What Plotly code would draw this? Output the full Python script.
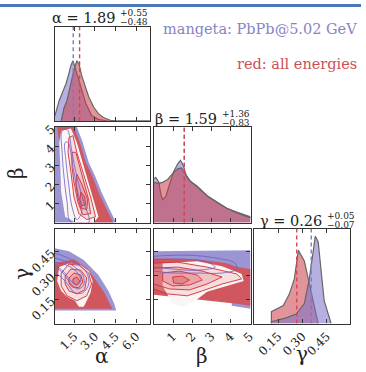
import plotly.graph_objects as go

W, H = 366, 372

# ---------------- data ----------------
# 1D marginal of alpha (relative heights)
alpha_blue_x = [0.1, 0.41, 0.69, 0.91, 1.12, 1.26, 1.41, 1.55, 1.69, 1.84, 2.12, 2.34, 2.76, 3.26, 3.98, 7.0]
alpha_blue_h = [0.06, 0.22, 0.32, 0.40, 0.51, 0.59, 0.64, 0.57, 0.49, 0.43, 0.29, 0.19, 0.06, 0.02, 0.0, 0.0]
alpha_red_x = [0.55, 0.76, 0.98, 1.26, 1.48, 1.69, 1.84, 2.05, 2.34, 2.55, 2.91, 3.26, 3.62, 4.12, 4.69, 7.0]
alpha_red_h = [0.0, 0.14, 0.22, 0.40, 0.54, 0.64, 0.61, 0.48, 0.34, 0.26, 0.15, 0.08, 0.04, 0.01, 0.0, 0.0]

# 1D marginal of beta
beta_blue_x = [0.0, 0.10, 0.26, 0.36, 0.46, 0.62, 0.82, 1.03, 1.24, 1.39, 1.55, 1.70, 1.91, 2.27, 2.78, 3.30, 3.81, 4.33, 5.05]
beta_blue_h = [0.46, 0.47, 0.42, 0.30, 0.24, 0.27, 0.40, 0.53, 0.61, 0.65, 0.59, 0.48, 0.43, 0.38, 0.28, 0.21, 0.15, 0.11, 0.06]
beta_red_x = [0.0, 0.21, 0.46, 0.72, 0.98, 1.24, 1.44, 1.65, 1.91, 2.27, 2.78, 3.30, 3.81, 4.33, 5.05]
beta_red_h = [0.42, 0.41, 0.42, 0.45, 0.51, 0.56, 0.57, 0.51, 0.43, 0.37, 0.28, 0.21, 0.15, 0.10, 0.05]

# 1D marginal of gamma
gamma_blue_x = [0.108, 0.108, 0.20, 0.262, 0.312, 0.343, 0.367, 0.380, 0.398, 0.417, 0.435, 0.460, 0.478]
gamma_blue_h = [0.0, 0.02, 0.06, 0.10, 0.21, 0.47, 0.76, 0.92, 0.86, 0.55, 0.24, 0.10, 0.0]
gamma_red_x = [0.108, 0.108, 0.182, 0.219, 0.250, 0.275, 0.312, 0.343, 0.373, 0.398]
gamma_red_h = [0.0, 0.125, 0.19, 0.31, 0.47, 0.77, 0.66, 0.42, 0.17, 0.0]

# medians
alpha_med = {"blue": 1.43, "red": 1.89}
beta_med = {"blue": 1.59, "red": 1.59}
gamma_med = {"blue": 0.355, "red": 0.265}

# 2D beta vs alpha: sample regions and contours
ba_blue_a = [0.1, 1.69, 2.12, 2.55, 3.05, 3.48, 3.98, 4.55, 0.1]
ba_blue_b = [5.05, 5.05, 4.22, 3.18, 2.40, 1.61, 0.83, 0.0, 0.0]
ba_red_a = [0.26, 1.48, 1.91, 2.34, 2.84, 3.26, 3.76, 4.34, 1.62, 1.55, 1.12, 0.76, 0.41]
ba_red_b = [5.05, 5.05, 4.22, 3.18, 2.40, 1.61, 0.83, 0.0, 0.0, 0.57, 1.61, 3.18, 4.22]
ba_white_a = [0.55, 1.26, 1.69, 2.12, 2.55, 2.98, 3.26, 2.91, 1.62, 0.84, 0.55, 0.48, 0.41]
ba_white_b = [4.84, 4.95, 4.22, 3.18, 2.14, 1.09, 0.31, 0.0, 0.0, 0.31, 1.61, 3.18, 4.22]
ba_red_cont_a = [
    [1.12, 1.41, 1.69, 2.12, 2.69, 3.05, 2.41, 1.84, 1.48, 1.26, 1.05, 1.12],
    [1.34, 1.62, 2.05, 2.55, 2.69, 2.12, 1.76, 1.48, 1.34, 1.34],
    [1.69, 2.05, 2.48, 2.41, 1.98, 1.76, 1.62, 1.69],
    [1.98, 2.26, 2.34, 2.05, 1.91, 1.98],
]
ba_red_cont_b = [
    [4.48, 4.58, 3.70, 2.66, 1.35, 0.31, 0.16, 0.47, 1.35, 2.66, 3.70, 4.48],
    [3.70, 3.70, 2.55, 1.20, 0.47, 0.42, 1.09, 2.14, 2.92, 3.70],
    [2.55, 2.03, 1.20, 0.68, 0.78, 1.35, 2.03, 2.55],
    [1.61, 1.35, 0.94, 0.89, 1.20, 1.61],
]
ba_blue_cont_a = [
    [0.62, 0.98, 1.34, 1.69, 2.19, 2.55, 1.26, 0.98, 0.76, 0.62, 0.62],
    [0.84, 1.05, 1.41, 1.76, 2.05, 1.69, 1.34, 1.12, 0.91, 0.84],
]
ba_blue_cont_b = [
    [4.84, 4.90, 3.70, 2.40, 1.09, 0.0, 0.0, 1.09, 2.40, 3.70, 4.84],
    [4.22, 4.22, 2.92, 1.61, 0.57, 0.16, 0.83, 1.88, 3.18, 4.22],
]

# 2D gamma vs alpha
ga_blue_a = [0.1, 1.12, 2.19, 3.26, 3.98, 4.41, 4.55, 0.1]
ga_blue_g = [0.472, 0.453, 0.398, 0.304, 0.205, 0.124, 0.081, 0.081]
ga_red_a = [0.1, 1.48, 2.41, 3.12, 3.69, 4.05, 4.27, 0.1]
ga_red_g = [0.379, 0.404, 0.348, 0.267, 0.193, 0.130, 0.093, 0.093]
ga_white_a = [0.41, 1.12, 1.98, 2.55, 2.84, 2.69, 2.41, 2.19, 1.84, 1.55, 0.98, 0.55, 0.26]
ga_white_g = [0.354, 0.379, 0.366, 0.329, 0.267, 0.193, 0.143, 0.106, 0.106, 0.143, 0.168, 0.205, 0.267]
ga_red_cont_a = [
    [0.55, 1.12, 1.84, 2.55, 2.76, 2.41, 1.69, 0.98, 0.55, 0.55],
    [0.84, 1.26, 1.98, 2.41, 2.26, 1.69, 1.12, 0.84, 0.84],
    [1.12, 1.48, 1.98, 2.12, 1.84, 1.34, 1.12, 1.12],
    [1.41, 1.69, 1.91, 1.69, 1.41, 1.41],
]
ga_red_cont_g = [
    [0.317, 0.373, 0.366, 0.317, 0.248, 0.174, 0.143, 0.174, 0.236, 0.317],
    [0.298, 0.342, 0.335, 0.286, 0.211, 0.186, 0.205, 0.248, 0.298],
    [0.286, 0.317, 0.304, 0.261, 0.224, 0.230, 0.255, 0.286],
    [0.280, 0.292, 0.267, 0.242, 0.255, 0.280],
]
ga_blue_cont_a = [
    [0.1, 0.76, 1.69, 2.41, 2.55, 2.12, 1.55, 1.12, 0.55, 0.1],
    [0.1, 0.84, 1.55, 2.12, 2.19, 1.76, 1.26, 0.69, 0.1],
    [0.1, 0.98, 1.69, 1.98, 1.69, 1.26, 0.69, 0.1],
]
ga_blue_cont_g = [
    [0.441, 0.422, 0.379, 0.317, 0.248, 0.193, 0.193, 0.236, 0.292, 0.317],
    [0.410, 0.391, 0.354, 0.304, 0.242, 0.217, 0.248, 0.317, 0.354],
    [0.385, 0.366, 0.323, 0.273, 0.242, 0.267, 0.329, 0.366],
]

# 2D gamma vs beta
gb_blue_b = [0.0, 5.05, 5.05, 4.07, 4.07, 0.0]
gb_blue_g = [0.453, 0.460, 0.093, 0.112, 0.329, 0.379]
gb_red_b = [0.0, 2.27, 3.81, 4.33, 5.05, 5.05, 4.33, 2.78, 1.24, 0.0]
gb_red_g = [0.410, 0.404, 0.379, 0.354, 0.342, 0.112, 0.124, 0.143, 0.161, 0.180]
gb_white_b = [0.46, 2.27, 3.56, 4.59, 4.69, 3.81, 2.78, 2.16, 1.49, 0.98, 0.72, 0.46]
gb_white_g = [0.379, 0.391, 0.360, 0.311, 0.267, 0.236, 0.199, 0.143, 0.106, 0.124, 0.180, 0.236]
gb_red_cont_b = [
    [0.0, 1.24, 2.78, 4.33, 4.59, 3.56, 2.53, 1.75, 0.72, 0.0],
    [0.0, 1.24, 2.53, 3.56, 2.78, 1.86, 0.82, 0.0],
    [0.46, 1.34, 2.27, 2.53, 1.86, 0.98, 0.46, 0.46],
    [0.98, 1.49, 1.86, 1.49, 1.03, 0.98],
]
gb_red_cont_g = [
    [0.379, 0.385, 0.354, 0.311, 0.280, 0.248, 0.205, 0.174, 0.186, 0.217],
    [0.348, 0.354, 0.329, 0.292, 0.248, 0.211, 0.217, 0.248],
    [0.317, 0.329, 0.304, 0.273, 0.242, 0.236, 0.267, 0.317],
    [0.292, 0.298, 0.273, 0.248, 0.255, 0.292],
]
gb_blue_cont_b = [
    [0.0, 1.75, 3.30, 4.23, 4.33, 3.56, 2.27, 0.98, 0.0],
    [0.0, 1.49, 2.78, 3.20, 2.27, 0.98, 0.0],
]
gb_blue_cont_g = [
    [0.422, 0.429, 0.410, 0.379, 0.342, 0.317, 0.317, 0.317, 0.329],
    [0.398, 0.404, 0.385, 0.354, 0.335, 0.342, 0.354],
]

alpha_ticks = [1.5, 3.0, 4.5, 6.0]
alpha_ticklabels = ["1.5", "3.0", "4.5", "6.0"]
beta_ticks = [1, 2, 3, 4, 5]
beta_ticklabels = ["1", "2", "3", "4", "5"]
gamma_ticks = [0.15, 0.30, 0.45]
gamma_ticklabels = ["0.15", "0.30", "0.45"]

titles = [
    ("α = 1.89", "+0.55", "−0.48"),
    ("β = 1.59", "+1.36", "−0.83"),
    ("γ = 0.26", "+0.05", "−0.07"),
]

# ---------------- styling ----------------
FONT = "DejaVu Serif"
BLUE_FILL = "rgba(120,112,200,0.55)"
RED_FILL = "rgba(200,62,72,0.55)"
OUTLINE = "#666666"
BLUE_DASH = "#7f78c8"
RED_DASH = "#d64550"
BLUE_SCAT = "#9c95d3"
RED_SCAT = "#d0575e"
WHITE_REG = "#fcf5f5"
PINKS = ["rgba(236,170,172,0.30)", "rgba(228,140,145,0.32)", "rgba(220,110,115,0.35)", "rgba(210,85,92,0.4)"]
RED_LINE = "#d22f38"
BLUE_LINE = "#6a60c8"

A_RANGE = [0.1, 7.0]
B_RANGE = [0.0, 5.05]
G_RANGE = [0.0, 0.596]


def xdom(p0, p1):
    return [p0 / W, p1 / W]


def ydom(p0, p1):
    return [1 - p1 / H, 1 - p0 / H]


cols = [xdom(55.7, 152), xdom(156, 254), xdom(257.5, 355)]
rows = [ydom(23, 118.5), ydom(124, 221), ydom(227, 323)]

# panel index -> (col,row)
panels = {1: (0, 0), 2: (0, 1), 3: (1, 1), 4: (0, 2), 5: (1, 2), 6: (2, 2)}

fig = go.Figure()


def ax(i):
    return ("x" if i == 1 else f"x{i}"), ("y" if i == 1 else f"y{i}")


def add_poly(i, xs, ys, fill=None, line=None, lw=1.0):
    xa, ya = ax(i)
    fig.add_trace(go.Scatter(
        x=xs, y=ys, xaxis=xa, yaxis=ya, mode="lines",
        fill="toself" if fill else None, fillcolor=fill,
        line=dict(color=line if line else "rgba(0,0,0,0)", width=lw if line else 0),
        hoverinfo="skip", showlegend=False))


def add_hist(i, xs, hs, color):
    xa, ya = ax(i)
    fig.add_trace(go.Scatter(
        x=xs, y=hs, xaxis=xa, yaxis=ya, mode="lines", fill="tozeroy",
        fillcolor=color, line=dict(color=OUTLINE, width=1.2),
        hoverinfo="skip", showlegend=False))


def add_med(i, x, color):
    xa, ya = ax(i)
    fig.add_trace(go.Scatter(
        x=[x, x], y=[0, 1], xaxis=xa, yaxis=ya, mode="lines",
        line=dict(color=color, width=1.4, dash="4px,3px"),
        hoverinfo="skip", showlegend=False))


# panel 1: alpha marginal
add_hist(1, alpha_blue_x, alpha_blue_h, BLUE_FILL)
add_hist(1, alpha_red_x, alpha_red_h, RED_FILL)
add_med(1, alpha_med["blue"], BLUE_DASH)
add_med(1, alpha_med["red"], RED_DASH)

# panel 3: beta marginal
add_hist(3, beta_blue_x, beta_blue_h, BLUE_FILL)
add_hist(3, beta_red_x, beta_red_h, RED_FILL)
add_med(3, beta_med["blue"], BLUE_DASH)
add_med(3, beta_med["red"], RED_DASH)

# panel 6: gamma marginal
add_hist(6, gamma_red_x, gamma_red_h, RED_FILL)
add_hist(6, gamma_blue_x, gamma_blue_h, BLUE_FILL)
add_med(6, gamma_med["blue"], BLUE_DASH)
add_med(6, gamma_med["red"], RED_DASH)


def add_2d(i, bx, by, rx, ry, wx, wy, rcx, rcy, bcx, bcy):
    add_poly(i, bx, by, fill=BLUE_SCAT)
    add_poly(i, rx, ry, fill=RED_SCAT)
    add_poly(i, wx, wy, fill=WHITE_REG)
    for k, (cx, cy) in enumerate(zip(rcx, rcy)):
        add_poly(i, cx, cy, fill=PINKS[k], line=RED_LINE, lw=0.9)
    for cx, cy in zip(bcx, bcy):
        xa, ya = ax(i)
        fig.add_trace(go.Scatter(x=cx, y=cy, xaxis=xa, yaxis=ya, mode="lines",
                                 line=dict(color=BLUE_LINE, width=0.8, shape="spline"),
                                 hoverinfo="skip", showlegend=False))


add_2d(2, ba_blue_a, ba_blue_b, ba_red_a, ba_red_b, ba_white_a, ba_white_b,
       ba_red_cont_a, ba_red_cont_b, ba_blue_cont_a, ba_blue_cont_b)
add_2d(4, ga_blue_a, ga_blue_g, ga_red_a, ga_red_g, ga_white_a, ga_white_g,
       ga_red_cont_a, ga_red_cont_g, ga_blue_cont_a, ga_blue_cont_g)
add_2d(5, gb_blue_b, gb_blue_g, gb_red_b, gb_red_g, gb_white_b, gb_white_g,
       gb_red_cont_b, gb_red_cont_g, gb_blue_cont_b, gb_blue_cont_g)

# ---------------- axes ----------------
tickfont = dict(family=FONT, size=12, color="#222")
axis_common = dict(showgrid=False, zeroline=False, showline=True, linecolor="#333",
                   linewidth=1.3, mirror="allticks", ticks="inside", ticklen=4,
                   tickcolor="#333", tickwidth=1, tickfont=tickfont, tickangle=-45)

spec = {
    1: dict(x=(A_RANGE, alpha_ticks, alpha_ticklabels, False), y=([0, 1], [], [], False)),
    2: dict(x=(A_RANGE, alpha_ticks, alpha_ticklabels, False), y=(B_RANGE, beta_ticks, beta_ticklabels, True)),
    3: dict(x=(B_RANGE, beta_ticks, beta_ticklabels, False), y=([0, 1], [], [], False)),
    4: dict(x=(A_RANGE, alpha_ticks, alpha_ticklabels, True), y=(G_RANGE, gamma_ticks, gamma_ticklabels, True)),
    5: dict(x=(B_RANGE, beta_ticks, beta_ticklabels, True), y=(G_RANGE, gamma_ticks, gamma_ticklabels, False)),
    6: dict(x=(G_RANGE, gamma_ticks, gamma_ticklabels, True), y=([0, 1], [], [], False)),
}

layout = dict(width=W, height=H, margin=dict(l=0, r=0, t=0, b=0),
              paper_bgcolor="white", plot_bgcolor="white", showlegend=False)
for i, (c, r) in panels.items():
    xa, ya = ax(i)
    xr, xt, xl, xshow = spec[i]["x"]
    yr, yt, yl, yshow = spec[i]["y"]
    xname = "xaxis" if i == 1 else f"xaxis{i}"
    yname = "yaxis" if i == 1 else f"yaxis{i}"
    layout[xname] = dict(axis_common, domain=cols[c], anchor=ya, range=xr,
                         tickmode="array", tickvals=xt, ticktext=xl, showticklabels=xshow)
    layout[yname] = dict(axis_common, domain=rows[r], anchor=xa, range=yr,
                         tickmode="array", tickvals=yt, ticktext=yl, showticklabels=yshow,
                         ticks="inside" if yt else "")
fig.update_layout(**layout)

# ---------------- text ----------------
ann = []


def txt(x, y, s, size, color="#222", xanchor="center", angle=0):
    ann.append(dict(x=x / W, y=1 - y / H, xref="paper", yref="paper", text=s, showarrow=False,
                    xanchor=xanchor, yanchor="middle", textangle=angle,
                    font=dict(family=FONT, size=size, color=color)))


# titles: (right edge of main text, y center)
title_pos = [(119, 14), (222, 116), (328, 219)]
for (main, sup, sub), (xr, yc) in zip(titles, title_pos):
    txt(xr, yc, main, 14.5, xanchor="right")
    txt(xr + 1, yc - 5, sup, 9, xanchor="left")
    txt(xr + 1, yc + 4, sub, 9, xanchor="left")

txt(264, 25, "mangeta: PbPb@5.02 GeV", 14.5, color="#8a82c6")
txt(301, 61, "red: all energies", 14.5, color="#cc5058")

txt(103, 356, "α", 20)
txt(205, 356, "β", 20)
txt(306, 354, "γ", 20)
txt(16, 171, "β", 20, angle=-90)
txt(22, 273, "γ", 20, angle=-90)

fig.update_layout(annotations=ann)
fig.add_shape(type="rect", xref="paper", yref="paper", x0=0, x1=1, y0=1 - 3 / H, y1=1,
              fillcolor="#4a78b8", line=dict(width=0), layer="above")

fig.write_html("out.html", config={"displayModeBar": False},
               post_script="document.body.style.margin='0';document.body.style.overflow='hidden';")
